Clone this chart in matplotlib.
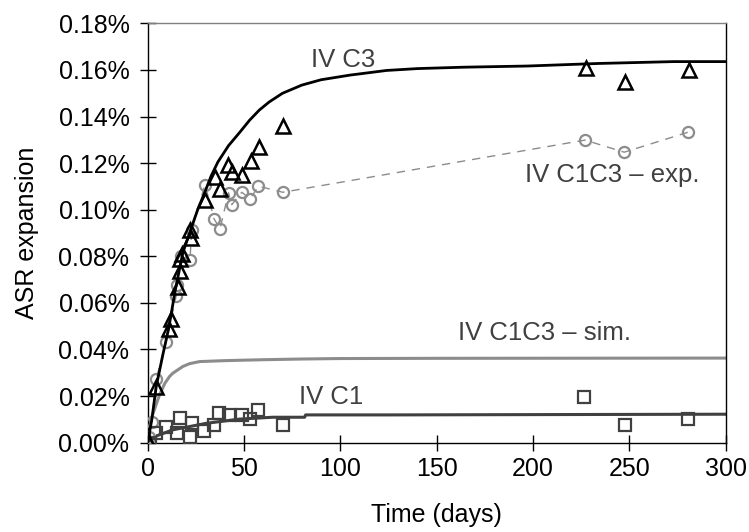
import numpy as np
import matplotlib
matplotlib.use("Agg")
import matplotlib.pyplot as plt
from matplotlib.ticker import FuncFormatter

plt.rcParams['font.family'] = ['Liberation Sans', 'DejaVu Sans']

# ---- experimental points (days, % expansion) ----
c3_days = [0.5, 4.5, 11, 12.3, 15.7, 17, 16.6, 18, 22.7, 22.1, 29.6, 34.8, 37.4,
           41.7, 44, 49, 53.8, 57.8, 70.2, 227.3, 247.5, 280.7]
c3_exp = [0.000, 0.024, 0.049, 0.053, 0.067, 0.0735, 0.079, 0.081, 0.088, 0.0915,
          0.104, 0.114, 0.109, 0.119, 0.116, 0.115, 0.121, 0.127, 0.136,
          0.161, 0.155, 0.160]

c1c3_days = [0.5, 2.2, 4.5, 9.6, 14.8, 15.5, 17.2, 22, 22.9, 29.8, 34.5, 37.6,
             42, 43.7, 48.9, 53.2, 57.5, 70.2, 227, 247.3, 280.5]
c1c3_exp = [0.0026, 0.009, 0.0273, 0.043, 0.0628, 0.0678, 0.080, 0.0783, 0.0912,
            0.1108, 0.0961, 0.0918, 0.1073, 0.1022, 0.1075, 0.1047, 0.1101, 0.1075,
            0.1299, 0.1247, 0.1333]

c1_days = [1.3, 4.4, 9.6, 15.2, 17, 22, 22.9, 29.5, 34.5, 37.3, 42.4, 48.9,
           53.2, 57.5, 70.2, 226.5, 247.8, 280.6]
c1_exp = [0.000, 0.0043, 0.0069, 0.004, 0.0105, 0.0023, 0.0086, 0.0052, 0.0076,
          0.0126, 0.0119, 0.0119, 0.0101, 0.0138, 0.0076, 0.0195, 0.0075, 0.010]

# ---- simulated curves ----
c3_sim_t = [0, 2.2, 4.5, 8, 11, 14.5, 18.3, 22.7, 26, 29.6, 33, 36.5, 42, 47.7, 53,
            58, 63, 70, 80, 90, 105, 124, 140, 164, 197, 234, 273, 300]
c3_sim = [0, 0.0098, 0.0241, 0.038, 0.0492, 0.066, 0.0815, 0.0922, 0.100, 0.1073,
          0.1145, 0.1205, 0.1275, 0.1331, 0.1385, 0.1428, 0.1462, 0.1500, 0.1535,
          0.1558, 0.1578, 0.1598, 0.1606, 0.1612, 0.1617, 0.1628, 0.1636, 0.1636]

c1c3_sim_t = [0, 1, 2.2, 3.9, 6.2, 9, 11.4, 13.1, 18.3, 21.8, 27, 40, 60, 80, 100, 150, 300]
c1c3_sim = [0, 0.007, 0.011, 0.015, 0.0205, 0.0255, 0.0284, 0.0298, 0.0327, 0.0339,
            0.0348, 0.0352, 0.0356, 0.0359, 0.0361, 0.0362, 0.0363]

c1_sim_t = [0, 2, 5, 13.1, 30.5, 47.7, 65, 81.5, 82, 125, 300]
c1_sim = [0, 0.0015, 0.003, 0.0055, 0.0083, 0.0101, 0.0109, 0.0109, 0.0119, 0.0119, 0.0122]

fig = plt.figure(figsize=(7.49, 5.32), dpi=100)
ax = fig.add_axes([0.197, 0.168, 0.772, 0.788])

# sim lines
ax.plot(c1c3_sim_t, c1c3_sim, color='#8c8c8c', lw=2.2, zorder=2)
ax.plot(c1_sim_t, c1_sim, color='#404040', lw=2.2, zorder=2)
ax.plot(c3_sim_t, c3_sim, color='black', lw=2.0, zorder=4)

# experimental
ax.plot(c1c3_days, c1c3_exp, color='#8c8c8c', lw=1.0, ls=(0, (6, 5)), zorder=3)
ax.plot(c1c3_days, c1c3_exp, ls='none', marker='o', ms=8, mfc='none',
        mec='#8c8c8c', mew=1.6, zorder=3)
ax.plot(c1_days, c1_exp, ls='none', marker='s', ms=8, mfc='none',
        mec='#404040', mew=1.6, zorder=3)
ax.plot(c3_days, c3_exp, ls='none', marker='^', ms=10, mfc='none',
        mec='black', mew=1.8, zorder=5)

# labels
lab_col = '#404040'
ax.text(101.5, 0.1642, 'IV C3', color=lab_col, fontsize=18.5, ha='center', va='center')
ax.text(241, 0.1147, 'IV C1C3 – exp.', color=lab_col, fontsize=18.5, ha='center', va='center')
ax.text(206, 0.0472, 'IV C1C3 – sim.', color=lab_col, fontsize=18.5, ha='center', va='center')
ax.text(95.4, 0.0198, 'IV C1', color=lab_col, fontsize=18.5, ha='center', va='center')

ax.set_xlim(0, 300)
ax.set_ylim(0, 0.18)
ax.set_xticks(np.arange(0, 301, 50))
ax.set_yticks(np.arange(0, 0.181, 0.02))
ax.yaxis.set_major_formatter(FuncFormatter(lambda v, p: '%.2f%%' % v))
ax.tick_params(direction='inout', length=12, width=1.0, labelsize=18, colors='black')
ax.tick_params(axis='x', pad=4)
ax.tick_params(axis='y', pad=7)

ax.spines['top'].set_color('#808080')
for s in ['left', 'right', 'bottom']:
    ax.spines[s].set_color('black')
for s in ax.spines.values():
    s.set_linewidth(1.0)

ax.set_xlabel('Time (days)', fontsize=18, labelpad=16)
ax.set_ylabel('ASR expansion', fontsize=18, labelpad=14)

fig.savefig('out.png', dpi=100)
